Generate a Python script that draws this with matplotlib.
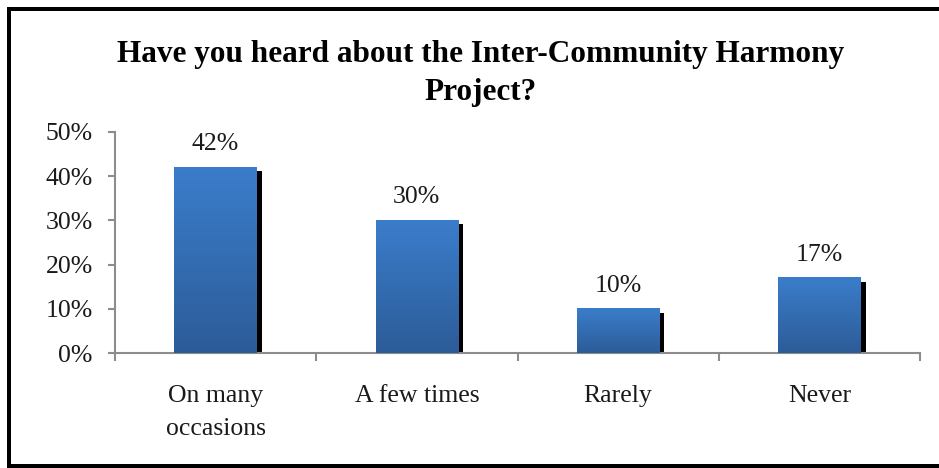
import numpy as np
import matplotlib.pyplot as plt
from matplotlib.lines import Line2D
from matplotlib.patches import Rectangle
from matplotlib.ticker import FixedLocator, NullFormatter

categories = ["On many\noccasions", "A few times", "Rarely", "Never"]
values = [42, 30, 10, 17]
y_ticks = [0, 10, 20, 30, 40, 50]
y_tick_labels = ["0%", "10%", "20%", "30%", "40%", "50%"]
title_lines = ["Have you heard about the Inter-Community Harmony", "Project?"]

plt.rcParams["font.family"] = ["Liberation Serif", "DejaVu Serif"]
text_col = "#1a1a1a"
axis_col = "#8c8c8c"
fs = 18.5

fig = plt.figure(figsize=(9.39, 4.68), dpi=100)
W, H = 939, 468
ax = fig.add_axes([115 / W, 1 - 353 / H, (920 - 115) / W, (353 - 132) / H])

x = np.arange(len(values))
bar_w = 0.41
top_col = np.array([0x3b, 0x7d, 0xcb]) / 255
bot_col = np.array([0x2c, 0x5c, 0x98]) / 255
grad = np.linspace(0, 1, 256)[:, None, None]
grad_img = top_col * (1 - grad) + bot_col * grad

# drop shadow offset, in data units
dx = 5 / 201
dy = 4 * 50 / 221
for xi, v in zip(x, values):
    left = xi - bar_w / 2
    ax.add_patch(Rectangle((left + dx, 0), bar_w, v - dy, facecolor="black",
                           edgecolor="none", zorder=2))
    ax.imshow(grad_img, extent=(left, left + bar_w, 0, v), aspect="auto",
              interpolation="bilinear", zorder=3)
    ax.annotate(f"{v}%", (xi, v), xytext=(0, 17), textcoords="offset pixels",
                ha="center", va="baseline", fontsize=fs, color=text_col)

ax.set_xlim(-0.5, len(values) - 0.5)
ax.set_ylim(0, 50)
ax.set_yticks(y_ticks)
ax.set_yticklabels(y_tick_labels, fontsize=fs, color=text_col)

ax.xaxis.set_major_locator(FixedLocator(np.arange(-0.5, len(values), 1)))
ax.xaxis.set_major_formatter(NullFormatter())
ax.tick_params(axis="x", which="major", length=6, width=1.5, color=axis_col,
               direction="out")
ax.tick_params(axis="y", length=5, width=1.5, color=axis_col, direction="out",
               pad=11)

# category names below the axis, one baseline per line
for xi, name in zip(x, categories):
    for k, line in enumerate(name.split("\n")):
        ax.annotate(line, (xi, 0), xycoords=("data", "axes fraction"),
                    xytext=(0, -49 - 33 * k), textcoords="offset pixels",
                    ha="center", va="baseline", fontsize=fs, color=text_col)

for side in ("top", "right"):
    ax.spines[side].set_visible(False)
for side in ("left", "bottom"):
    ax.spines[side].set_color(axis_col)
    ax.spines[side].set_linewidth(1.5)

for line, base in zip(title_lines, (62, 100)):
    fig.text(481 / W, 1 - base / H, line, ha="center", va="baseline",
             fontsize=22.5, fontweight="bold", color="black")

# outer frame
lw = 4 * 72 / 100
fig.add_artist(Line2D([9 / W, 9 / W], [1 - 466 / H, 1 - 7 / H],
                      transform=fig.transFigure, color="black", lw=lw,
                      solid_capstyle="butt"))
fig.add_artist(Line2D([7 / W, 1], [1 - 9 / H, 1 - 9 / H],
                      transform=fig.transFigure, color="black", lw=lw,
                      solid_capstyle="butt"))
fig.add_artist(Line2D([7 / W, 1], [1 - 466 / H, 1 - 466 / H],
                      transform=fig.transFigure, color="black", lw=lw,
                      solid_capstyle="butt"))

fig.savefig("out.png", dpi=100)
